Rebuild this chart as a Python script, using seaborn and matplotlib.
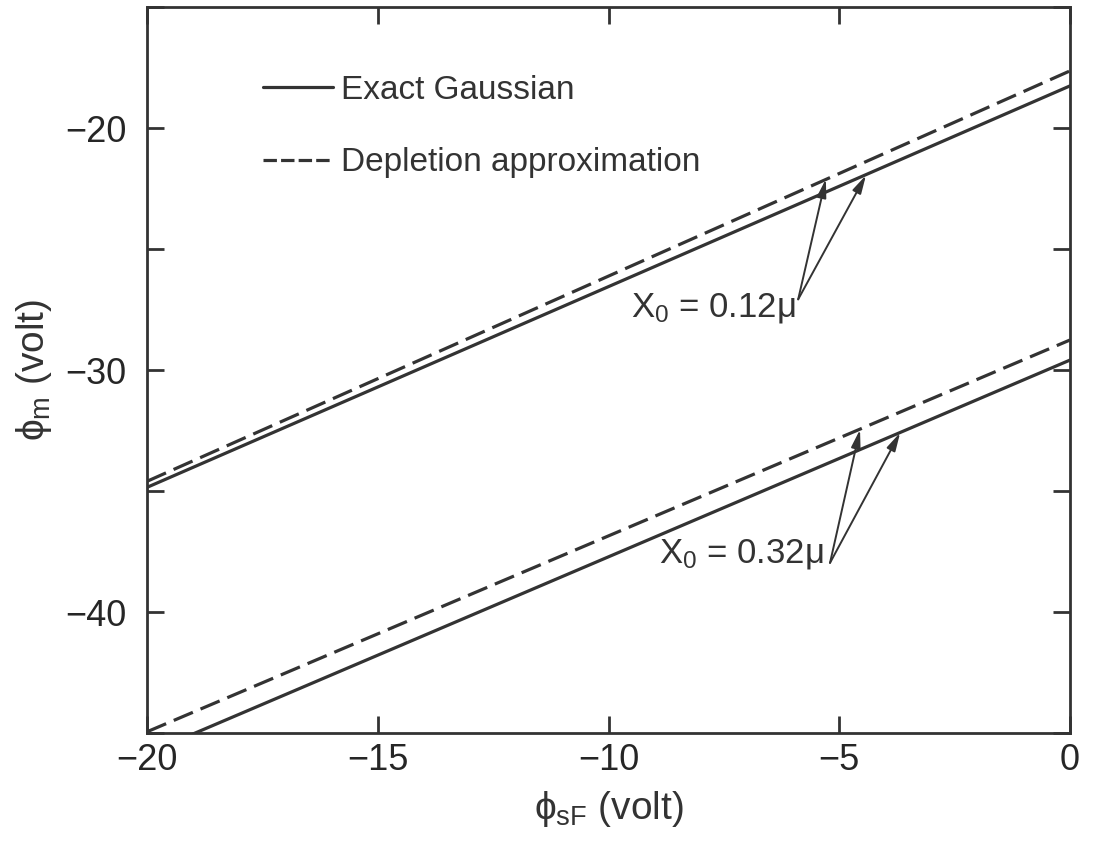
import matplotlib
matplotlib.use("Agg")
import matplotlib.pyplot as plt
import seaborn as sns
import pandas as pd
from matplotlib.lines import Line2D

# ---- data ----
phi_sF = [-20, 0]
upper_exact = [-34.85, -18.26]     # X0 = 0.12 mu, exact Gaussian
upper_depl = [-34.6, -17.64]       # X0 = 0.12 mu, depletion approximation
lower_exact = [-45.85, -29.59]     # X0 = 0.32 mu, exact Gaussian
lower_depl = [-44.95, -28.76]      # X0 = 0.32 mu, depletion approximation

methods = ["Exact Gaussian", "Depletion approximation"]
cases = ["0.12", "0.32"]

x_ticks = [-20, -15, -10, -5, 0]
x_ticklabels = ["−20", "−15", "−10", "−5", "0"]
y_major = [-40, -30, -20]
y_major_labels = ["−40", "−30", "−20"]
y_minor = [-45, -35, -25, -15]

# annotation geometry (data coords)
ann_upper_text = (-5.95, -27.45)
ann_upper_tips = [(-5.29, -22.11), (-4.42, -21.95)]
ann_upper_base = (-5.89, -27.08)
ann_lower_text = (-5.33, -37.6)
ann_lower_tips = [(-4.55, -32.46), (-3.68, -32.59)]
ann_lower_base = (-5.20, -37.97)

rows = []
for case, ex, dp in [("0.12", upper_exact, upper_depl), ("0.32", lower_exact, lower_depl)]:
    for xv, yv in zip(phi_sF, ex):
        rows.append(dict(x=xv, y=yv, method=methods[0], case=case))
    for xv, yv in zip(phi_sF, dp):
        rows.append(dict(x=xv, y=yv, method=methods[1], case=case))
df = pd.DataFrame(rows)

sns.set_style("ticks")
plt.rcParams["font.family"] = ["Liberation Sans", "DejaVu Sans"]
plt.rcParams["mathtext.fontset"] = "custom"
plt.rcParams["mathtext.rm"] = "Liberation Sans"
plt.rcParams["mathtext.it"] = "Liberation Sans"
plt.rcParams["mathtext.bf"] = "Liberation Sans"

ink = "#333333"
lw = 2.3
dash = (6.5, 2.6)

fig = plt.figure(figsize=(10.94, 8.47), dpi=100)
ax = fig.add_axes([147 / 1094, (847 - 733) / 847, 923 / 1094, 726 / 847])

sns.lineplot(data=df, x="x", y="y", style="method", units="case", estimator=None,
             style_order=methods, dashes={methods[0]: "", methods[1]: dash},
             color=ink, linewidth=lw, legend=False, ax=ax)

ax.set_xlim(-20, 0)
ax.set_ylim(-45, -15)

ax.set_xticks(x_ticks)
ax.set_xticklabels(x_ticklabels, fontsize=26)
ax.set_yticks(y_major)
ax.set_yticklabels(y_major_labels, fontsize=26)
ax.set_yticks(y_minor, minor=True)
ax.tick_params(axis="both", which="both", direction="in", top=True, right=True,
               length=12, width=2, color=ink)
ax.tick_params(axis="x", which="major", pad=7)
ax.tick_params(axis="y", which="major", pad=15)
for s in ax.spines.values():
    s.set_linewidth(2)
    s.set_color(ink)

ax.set_xlabel(r"$\phi_{\mathrm{sF}}$ (volt)", fontsize=28, labelpad=8, color=ink)
ax.set_ylabel(r"$\phi_{\mathrm{m}}$ (volt)", fontsize=28, labelpad=8, color=ink)

handles = [Line2D([], [], color=ink, lw=lw),
           Line2D([], [], color=ink, lw=lw, dashes=(4.2, 1.3))]
ax.legend(handles, methods, loc="upper left", bbox_to_anchor=(0.093, 0.948),
          frameon=False, fontsize=24, handlelength=2.1, handletextpad=0.25,
          labelspacing=1.25, labelcolor=ink)

arrow_kw = dict(arrowstyle="-|>,head_length=0.55,head_width=0.14", lw=1.4,
                color=ink, mutation_scale=20, shrinkA=0, shrinkB=0)

ax.text(*ann_upper_text, r"X$_0$ = 0.12$\mu$", fontsize=25, ha="right", va="center", color=ink)
for tip in ann_upper_tips:
    ax.annotate("", xy=tip, xytext=ann_upper_base, arrowprops=arrow_kw)
ax.text(*ann_lower_text, r"X$_0$ = 0.32$\mu$", fontsize=25, ha="right", va="center", color=ink)
for tip in ann_lower_tips:
    ax.annotate("", xy=tip, xytext=ann_lower_base, arrowprops=arrow_kw)

fig.savefig("out.png", dpi=100)
